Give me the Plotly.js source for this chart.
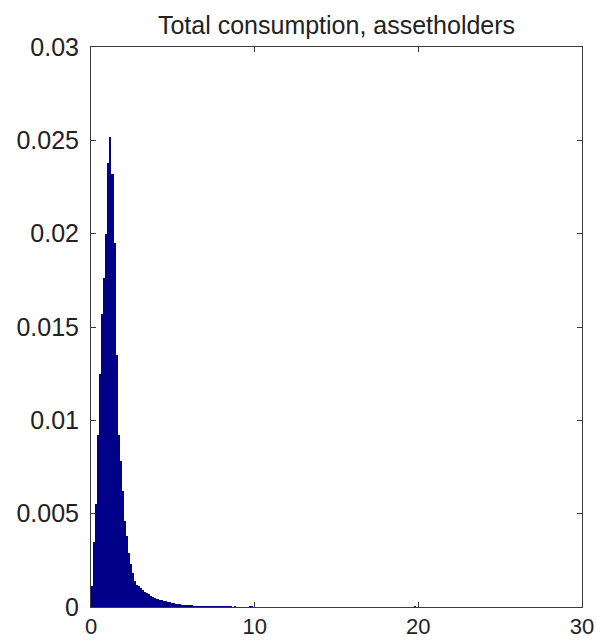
<!DOCTYPE html>
<html>
<head>
<meta charset="utf-8">
<script src="https://cdn.plot.ly/plotly-3.0.1.min.js"></script>
<style>html,body{margin:0;padding:0;background:#fff;} #plot{width:597px;height:643px;}</style>
</head>
<body>
<div id="plot"></div>
<script>
// Histogram bins (width 0.125, starting at 0)
const binWidth = 0.125;
const binStart = 0;
const density = [
  0.0011, 0.0035, 0.0055, 0.0092, 0.0125, 0.0157, 0.0176, 0.0200,
  0.0238, 0.0252, 0.0232, 0.0195, 0.0135, 0.0092, 0.0078, 0.0062,
  0.0046, 0.0038, 0.0029, 0.0023, 0.0018, 0.0014, 0.0012, 0.0011,
  0.0010, 0.0009, 0.0008, 0.00075, 0.0007, 0.0006, 0.00055, 0.0005,
  0.00045, 0.0004, 0.00036, 0.00033, 0.0003, 0.00028, 0.00025, 0.00022,
  0.0002, 0.00018, 0.00016, 0.00014, 0.00013, 0.00012, 0.00011, 0.0001,
  0.00009, 0.00009, 0.00008, 0.00008, 0.00007, 0.00007, 0.00006, 0.00006,
  0.00006, 0.00005, 0.00005, 0.00005, 0.00004, 0.00004, 0.00004, 0.00004,
  0.00003, 0.00003, 0.00003, 0.00003, 0.00003, 0.00002, 0.00003, 0.00002,
  0.00002, 0.00002, 0.00002, 0.00002, 0.00002, 0.00004, 0.00005, 0.00002,
  0.00002, 0.00001, 0.00001, 0.00001
];
// Sparse tail bins
const tailX = [11.19, 12.44, 13.56, 14.06, 15.31, 16.94, 19.19, 19.81];
const tailY = [0.00002, 0.00001, 0.00002, 0.00001, 0.00001, 0.00001, 0.00002, 0.00003];

const titleText = 'Total consumption, assetholders';
const xTicks = [0, 10, 20, 30];
const yTicks = [0, 0.005, 0.01, 0.015, 0.02, 0.025, 0.03];
const yTickText = ['0', '0.005', '0.01', '0.015', '0.02', '0.025', '0.03'];

const centers = density.map((_, i) => binStart + binWidth * (i + 0.5));
const xs = centers.concat(tailX);
const ys = density.concat(tailY);

const trace = {
  type: 'bar',
  x: xs,
  y: ys,
  width: binWidth,
  marker: {color: '#000088', line: {width: 0}},
  hoverinfo: 'x+y'
};

const fontFam = '"Liberation Sans", Arial, sans-serif';
const axisCommon = {
  showgrid: false,
  zeroline: false,
  showline: true,
  linecolor: '#3a3a3a',
  linewidth: 1,
  mirror: 'ticks',
  ticks: 'inside',
  ticklen: 5,
  tickcolor: '#3a3a3a'
};

const layout = {
  width: 597,
  height: 643,
  margin: {l: 91, r: 15, t: 47, b: 36},
  paper_bgcolor: '#fff',
  plot_bgcolor: '#fff',
  showlegend: false,
  bargap: 0,
  title: {
    text: titleText,
    font: {family: fontFam, size: 25, color: '#222'},
    x: 0.5, xref: 'paper',
    y: 1 - 25 / 643, yref: 'container', yanchor: 'middle'
  },
  xaxis: Object.assign({}, axisCommon, {
    range: [0, 30],
    tickmode: 'array',
    tickvals: xTicks,
    ticktext: xTicks.map(String),
    tickfont: {family: fontFam, size: 22, color: '#222'},
    ticklabelstandoff: 0
  }),
  yaxis: Object.assign({}, axisCommon, {
    range: [0, 0.03],
    tickmode: 'array',
    tickvals: yTicks,
    ticktext: yTickText,
    tickfont: {family: fontFam, size: 25, color: '#222'},
    ticklabelstandoff: 6
  })
};

Plotly.newPlot('plot', [trace], layout, {displayModeBar: false, staticPlot: true});
</script>
</body>
</html>
